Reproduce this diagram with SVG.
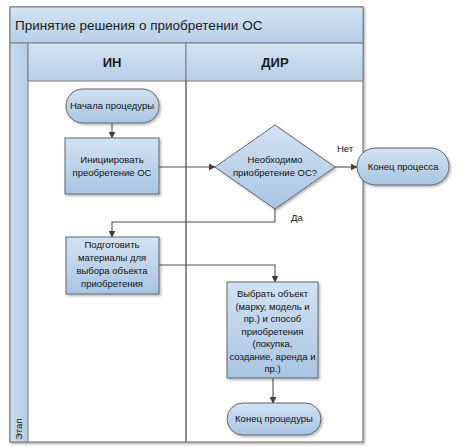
<svg xmlns="http://www.w3.org/2000/svg" width="474" height="447" viewBox="0 0 474 447">
<defs>
<linearGradient id="hdr" x1="0" y1="0" x2="0" y2="1">
<stop offset="0" stop-color="#d3e3f3"/>
<stop offset="1" stop-color="#b7cfe8"/>
</linearGradient>
<linearGradient id="stripe" x1="0" y1="0" x2="1" y2="0">
<stop offset="0" stop-color="#c9dcef"/>
<stop offset="1" stop-color="#b4cde6"/>
</linearGradient>
<linearGradient id="node" x1="0" y1="0" x2="0" y2="1">
<stop offset="0" stop-color="#d2e2f2"/>
<stop offset="1" stop-color="#a9c5e2"/>
</linearGradient>
<marker id="arr" viewBox="0 0 10 10" refX="9" refY="5" markerWidth="7" markerHeight="7" markerUnits="userSpaceOnUse" orient="auto">
<path d="M0,0 L10,5 L0,10 z" fill="#404040"/>
</marker>
<filter id="sh" x="-10%" y="-10%" width="130%" height="130%">
<feDropShadow dx="1.5" dy="1.5" stdDeviation="0.8" flood-color="#000" flood-opacity="0.3"/>
</filter>
</defs>
<style>
.frame{fill:#fff;stroke:#7a7a7a;stroke-width:1.2}
.hd{fill:url(#hdr);stroke:#7a7a7a;stroke-width:1}
.nd{fill:url(#node);stroke:#5c6670;stroke-width:1;filter:url(#sh)}
.cn{fill:none;stroke:#505050;stroke-width:1.1;marker-end:url(#arr)}
.t{font-family:"Liberation Sans",Arial,sans-serif;font-size:9.5px;fill:#111;text-anchor:middle}
.ti{font-family:"Liberation Sans",Arial,sans-serif;font-size:13.5px;fill:#1a1a1a}
.lh{font-family:"Liberation Sans",Arial,sans-serif;font-size:13px;font-weight:bold;fill:#1a1a1a;text-anchor:middle}
.lb{font-family:"Liberation Sans",Arial,sans-serif;font-size:9.5px;fill:#111}
</style>
<g id="pool">
<rect class="frame" x="10" y="7" width="353" height="435" filter="url(#sh)"/>
<rect class="hd" x="10" y="7" width="353" height="36"/>
<text class="ti" x="15" y="30">Принятие решения о приобретении ОС</text>
<rect x="10" y="43" width="18" height="399" fill="url(#stripe)" stroke="#7a7a7a" stroke-width="1"/>
<text class="lb" transform="translate(22,440) rotate(-90)" x="0" y="0">Этап</text>
<rect class="hd" x="28" y="43" width="158" height="38"/>
<rect class="hd" x="186" y="43" width="177" height="38"/>
<text class="lh" x="112" y="67">ИН</text>
<text class="lh" x="275" y="67">ДИР</text>
<line x1="186" y1="81" x2="186" y2="442" stroke="#444" stroke-width="1.2"/>
</g>
<g id="connectors">
<path class="cn" d="M112,123 V138"/>
<path class="cn" d="M159,167 H215"/>
<path class="cn" d="M335,167 H357"/>
<path class="cn" d="M275,209 V222 H112 V237"/>
<path class="cn" d="M159,265 H275 V282"/>
<path class="cn" d="M273,378 V403"/>
<text class="lb" x="337" y="152">Нет</text>
<text class="lb" x="291" y="221">Да</text>
</g>
<g id="start">
<rect class="nd" x="66" y="89" width="93" height="34" rx="17"/>
<text class="t" x="112" y="109">Начала процедуры</text>
</g>
<g id="initiate">
<rect class="nd" x="65" y="138" width="94" height="56"/>
<text class="t" x="112" y="163">Инициировать</text>
<text class="t" x="112" y="176">преобретение ОС</text>
</g>
<g id="decision">
<polygon class="nd" points="275,125 335,167 275,209 215,167"/>
<text class="t" x="275" y="163">Необходимо</text>
<text class="t" x="275" y="176">приобретение ОС?</text>
</g>
<g id="endprocess">
<rect class="nd" x="357" y="148" width="92" height="37" rx="18.5"/>
<text class="t" x="403" y="170">Конец процесса</text>
</g>
<g id="prepare">
<rect class="nd" x="66" y="237" width="93" height="57"/>
<text class="t" x="112" y="248">Подготовить</text>
<text class="t" x="112" y="261">материалы для</text>
<text class="t" x="112" y="274">выбора объекта</text>
<text class="t" x="112" y="287">приобретения</text>
</g>
<g id="choose">
<rect class="nd" x="227" y="282" width="91" height="96"/>
<text class="t" x="272.5" y="297">Выбрать объект</text>
<text class="t" x="272.5" y="309.5">(марку, модель и</text>
<text class="t" x="272.5" y="322">пр.) и способ</text>
<text class="t" x="272.5" y="334.5">приобретения</text>
<text class="t" x="272.5" y="347">(покупка,</text>
<text class="t" x="272.5" y="359.5">создание, аренда и</text>
<text class="t" x="272.5" y="372">пр.)</text>
</g>
<g id="endproc">
<rect class="nd" x="227" y="403" width="94" height="32" rx="16"/>
<text class="t" x="274" y="422">Конец процедуры</text>
</g>
</svg>
